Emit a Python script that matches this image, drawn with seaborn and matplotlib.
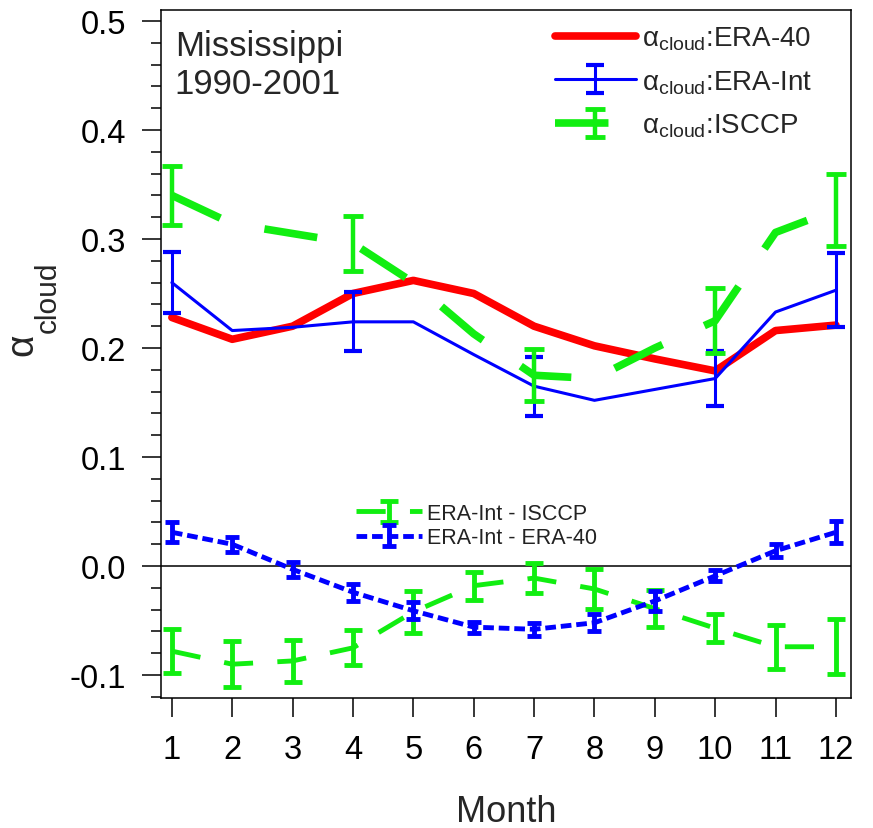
import numpy as np
import pandas as pd
import matplotlib
matplotlib.use("Agg")
import matplotlib.pyplot as plt
from matplotlib.ticker import MultipleLocator
import seaborn as sns

# --- Data ---
MONTHS = list(range(1, 13))

ERA40 = [0.228, 0.208, 0.220, 0.250, 0.262, 0.250, 0.220, 0.202, 0.190, 0.179, 0.216, 0.221]
ERAINT = [0.260, 0.216, 0.219, 0.224, 0.224, 0.194, 0.165, 0.152, 0.162, 0.172, 0.233, 0.253]
ISCCP = [0.340, 0.314, 0.305, 0.296, 0.260, 0.213, 0.175, 0.172, 0.200, 0.225, 0.306, 0.327]

ERR_MONTHS = [1, 4, 7, 10, 12]
ERAINT_ERR = [0.028, 0.027, 0.027, 0.025, 0.034]
ISCCP_ERR = [0.027, 0.025, 0.024, 0.030, 0.033]

DIFF_ERA40 = [0.031, 0.020, -0.003, -0.024, -0.041, -0.056, -0.058, -0.052, -0.032, -0.009, 0.014, 0.031]
DIFF_ERA40_ERR = [0.009, 0.007, 0.007, 0.008, 0.008, 0.005, 0.006, 0.008, 0.009, 0.005, 0.006, 0.010]
DIFF_ISCCP = [-0.078, -0.090, -0.087, -0.075, -0.042, -0.018, -0.011, -0.021, -0.039, -0.057, -0.074, -0.074]
DIFF_ISCCP_ERR = [0.020, 0.021, 0.019, 0.016, 0.019, 0.013, 0.014, 0.018, 0.017, 0.013, 0.020, 0.025]

RED = "#ff0000"
BLUE = "#0000ff"
GREEN = "#11ee11"

# --- Style ---
sns.set_style("ticks")
plt.rcParams["font.family"] = ["Liberation Sans", "DejaVu Sans"]
plt.rcParams["mathtext.fontset"] = "custom"
plt.rcParams["mathtext.rm"] = "Liberation Sans"
plt.rcParams["mathtext.it"] = "Liberation Sans:italic"
plt.rcParams["axes.edgecolor"] = "black"
plt.rcParams["axes.linewidth"] = 1.1
plt.rcParams["xtick.color"] = "black"
plt.rcParams["ytick.color"] = "black"

W, H = 873, 829
fig = plt.figure(figsize=(W / 100, H / 100), dpi=100)
L, R, T, B = 161, 851, 11, 699
ax = fig.add_axes([L / W, 1 - B / H, (R - L) / W, (B - T) / H])

top = pd.DataFrame({"month": MONTHS, "era40": ERA40, "eraint": ERAINT, "isccp": ISCCP})
bot = pd.DataFrame({"month": MONTHS, "d40": DIFF_ERA40, "d40_err": DIFF_ERA40_ERR,
                    "dis": DIFF_ISCCP, "dis_err": DIFF_ISCCP_ERR})
err_idx = [m - 1 for m in ERR_MONTHS]

ax.axhline(0, color="black", linewidth=1.1, zorder=1)

# top panel: cloud albedo
sns.lineplot(data=top, x="month", y="era40", ax=ax, color=RED, linewidth=5.5,
             errorbar=None, zorder=3)
red_line = ax.lines[-1]

sns.lineplot(data=top, x="month", y="eraint", ax=ax, color=BLUE, linewidth=2.2,
             errorbar=None, zorder=4)
blue_line = ax.lines[-1]
blue_err = ax.errorbar(top["month"].iloc[err_idx], top["eraint"].iloc[err_idx], yerr=ERAINT_ERR,
                       fmt="none", ecolor=BLUE, elinewidth=2.2, capsize=6.5, capthick=3, zorder=4)

sns.lineplot(data=top, x="month", y="isccp", ax=ax, color=GREEN, linewidth=5.5,
             linestyle=(0, (7, 6)), errorbar=None, zorder=5)
green_line = ax.lines[-1]
green_err = ax.errorbar(top["month"].iloc[err_idx], top["isccp"].iloc[err_idx], yerr=ISCCP_ERR,
                        fmt="none", ecolor=GREEN, elinewidth=3.2, capsize=7, capthick=3.5, zorder=5)

# bottom panel: differences
sns.lineplot(data=bot, x="month", y="dis", ax=ax, color=GREEN, linewidth=3.5,
             linestyle=(0, (6, 5)), errorbar=None, zorder=3)
dis_line = ax.lines[-1]
dis_err = ax.errorbar(bot["month"], bot["dis"], yerr=bot["dis_err"], fmt="none", ecolor=GREEN,
                      elinewidth=3.5, capsize=6.5, capthick=3.5, zorder=3)

sns.lineplot(data=bot, x="month", y="d40", ax=ax, color=BLUE, linewidth=3.5,
             linestyle=(0, (2.2, 1.0)), errorbar=None, zorder=4)
d40_line = ax.lines[-1]
d40_err = ax.errorbar(bot["month"], bot["d40"], yerr=bot["d40_err"], fmt="none", ecolor=BLUE,
                      elinewidth=3.5, capsize=5, capthick=3.5, zorder=4)

# axes
ax.set_xlim(0.82, 12.25)
ax.set_ylim(-0.121, 0.510)
ax.set_xticks(MONTHS)
ax.set_xticklabels([str(m) for m in MONTHS])
yt = [-0.1, 0.0, 0.1, 0.2, 0.3, 0.4, 0.5]
ax.set_yticks(yt)
ax.set_yticklabels([f"{v:.1f}" for v in yt])
ax.yaxis.set_minor_locator(MultipleLocator(0.02))
ax.tick_params(axis="both", which="major", direction="out", length=14, width=1.1,
               labelsize=23.5)
ax.tick_params(axis="x", which="major", pad=12)
ax.tick_params(axis="y", which="major", pad=11)
ax.tick_params(axis="y", which="minor", direction="out", length=7, width=1.1)
ax.tick_params(top=False, right=False)
for s in ax.spines.values():
    s.set_visible(True)
    s.set_color("black")

ax.set_xlabel("Month", fontsize=26)
ax.xaxis.set_label_coords(0.5, -0.140)
# y label: alpha with a near full-size "cloud" subscript, as in the source figure
ax.set_ylabel("α", fontsize=28)
ax.yaxis.set_label_coords(-0.175, 0.5145)
ax.text(-0.1645, 0.5836, "cloud", transform=ax.transAxes, fontsize=21.5,
        rotation=90, ha="center", va="center")

ax.text(0.02, 0.972, "Mississippi\n1990-2001", transform=ax.transAxes, fontsize=25,
        ha="left", va="top", linespacing=1.2)

leg1 = ax.legend(
    [red_line, (blue_line, blue_err), (green_line, green_err)],
    [r"α$_{\mathrm{cloud}}$:ERA-40", r"α$_{\mathrm{cloud}}$:ERA-Int", r"α$_{\mathrm{cloud}}$:ISCCP"],
    loc="upper left", bbox_to_anchor=(0.571, 0.979), frameon=False, fontsize=20,
    handlelength=2.9, handletextpad=0.25, labelspacing=0.58, borderpad=0, borderaxespad=0)
ax.add_artist(leg1)

ax.legend(
    [(dis_line, dis_err), (d40_line, d40_err)],
    ["ERA-Int - ISCCP", "ERA-Int - ERA-40"],
    loc="upper left", bbox_to_anchor=(0.283, 0.2834), frameon=False, fontsize=15.5,
    handlelength=3.07, handletextpad=0.23, labelspacing=0.15, borderpad=0, borderaxespad=0,
    labelcolor="#222222")

fig.savefig("out.png", dpi=100)
